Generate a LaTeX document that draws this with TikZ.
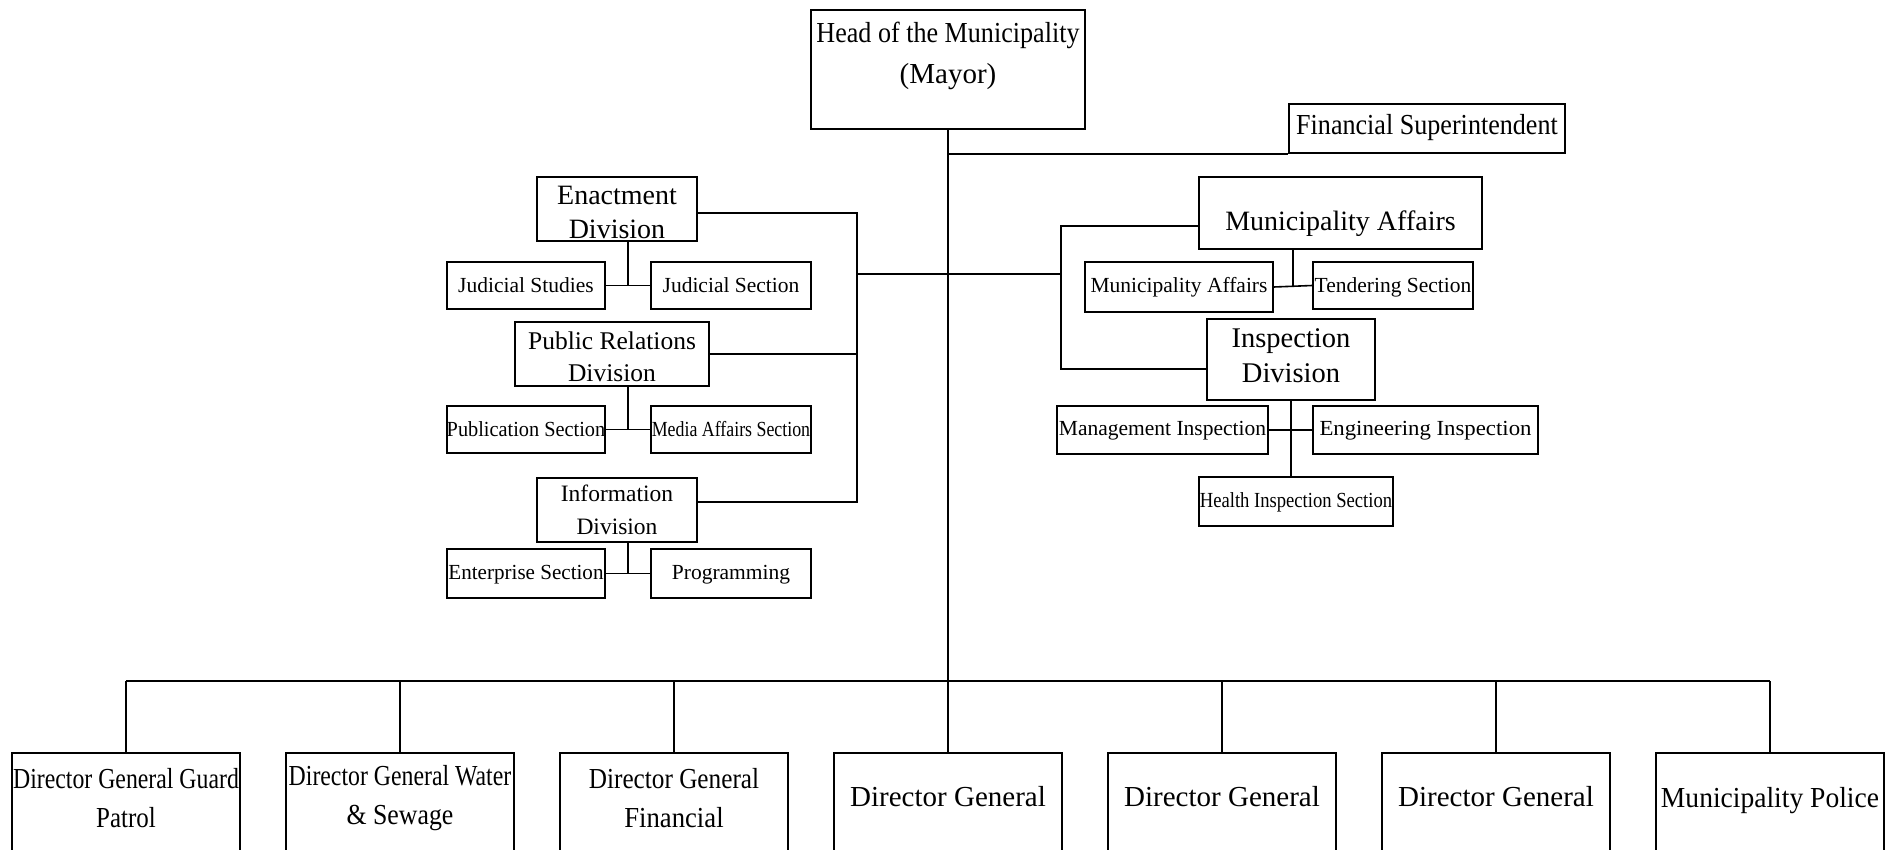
\documentclass[tikz,border=0pt]{standalone}
\usepackage{fontspec}
\usepackage{graphicx}
\setmainfont{Liberation Serif}
\usetikzlibrary{calc}
\tikzset{
  boxst/.style={draw, line width=1.6pt, inner sep=0pt},
  conn/.style={line width=1.6pt},
  txt/.style={inner sep=0pt, align=center},
  fbig/.style={font=\fontsize{28}{34}\selectfont},
  fsmall/.style={font=\fontsize{21.5}{26}\selectfont},
}
\newcommand{\hs}[2]{\scalebox{#1}[1]{#2}}
\begin{document}
\begin{tikzpicture}[x=1pt,y=-1pt]
\clip (0,0) rectangle (1901,849);
\fill[white] (0,0) rectangle (1901,849);

% top
\node[boxst, minimum width=274, minimum height=119] (head) at (948,69.5) {};
\node[txt, font=\fontsize{29}{41}\selectfont] (headt) at (948,56) {\hs{0.9}{Head of the Municipality}\\(Mayor)};
\node[boxst, minimum width=276, minimum height=49] (fin) at (1427,128.5) {};
\node[txt, font=\fontsize{29}{34}\selectfont] (fint) at (1427,128) {\hs{0.9}{Financial Superintendent}};

% left divisions
\node[boxst, minimum width=160, minimum height=64] (enact) at (617,209) {};
\node[txt, fbig] (enactt) at (617,212) {Enactment\\Division};
\node[boxst, minimum width=158, minimum height=47] (js) at (526,285.5) {};
\node[txt, fsmall] (jst) at (526,285.5) {Judicial Studies};
\node[boxst, minimum width=160, minimum height=47] (jsec) at (731,285.5) {};
\node[txt, fsmall] (jsect) at (731,285.5) {Judicial Section};

\node[boxst, minimum width=194, minimum height=64] (pr) at (612,354) {};
\node[txt, font=\fontsize{25.5}{32}\selectfont] (prt) at (612,357) {Public Relations\\Division};
\node[boxst, minimum width=158, minimum height=47] (pub) at (526,429.5) {};
\node[txt, fsmall] (pubt) at (526,429.5) {\hs{0.945}{Publication Section}};
\node[boxst, minimum width=160, minimum height=47] (media) at (731,429.5) {};
\node[txt, fsmall] (mediat) at (731,429.5) {\hs{0.83}{Media Affairs Section}};

\node[boxst, minimum width=160, minimum height=64] (info) at (617,510) {};
\node[txt, font=\fontsize{23.5}{33}\selectfont] (infot) at (617,510) {Information\\Division};
\node[boxst, minimum width=158, minimum height=49] (ent) at (526,573.5) {};
\node[txt, fsmall] (entt) at (526,574.5) {\hs{0.98}{Enterprise Section}};
\node[boxst, minimum width=160, minimum height=49] (prog) at (731,573.5) {};
\node[txt, fsmall] (progt) at (731,574.5) {Programming};

% right divisions
\node[boxst, minimum width=283, minimum height=72] (ma) at (1340.5,213) {};
\node[txt, fbig] (mat) at (1340.5,224) {Municipality Affairs};
\node[boxst, minimum width=188, minimum height=50] (mas) at (1179,287) {};
\node[txt, fsmall] (mast) at (1179,287) {Municipality Affairs};
\node[boxst, minimum width=160, minimum height=47] (tend) at (1393,285.5) {};
\node[txt, fsmall] (tendt) at (1393,287) {Tendering Section};

\node[boxst, minimum width=168, minimum height=81] (insp) at (1291,359.5) {};
\node[txt, font=\fontsize{28.5}{35}\selectfont] (inspt) at (1291,356) {Inspection\\Division};
\node[boxst, minimum width=211, minimum height=48] (mgmt) at (1162.5,430) {};
\node[txt, fsmall] (mgmtt) at (1162.5,431) {Management Inspection};
\node[boxst, minimum width=225, minimum height=48] (eng) at (1425.5,430) {};
\node[txt, fsmall] (engt) at (1425.5,431) {\hs{1.06}{Engineering Inspection}};
\node[boxst, minimum width=194, minimum height=49] (health) at (1296,501.5) {};
\node[txt, fsmall] (healtht) at (1296,502.5) {\hs{0.865}{Health Inspection Section}};

% bottom row
\foreach \i/\x in {1/126,2/400,3/674,4/948,5/1222,6/1496,7/1770}{
  \node[boxst, minimum width=228, minimum height=147] (dg\i) at (\x,826.5) {};
}
\tikzset{fbot/.style={font=\fontsize{29}{39}\selectfont}}
\node[txt, fbot] (dg1t) at (126,798) {\hs{0.82}{Director General Guard}\\\hs{0.86}{Patrol}};
\node[txt, fbot] (dg2t) at (400,798) {\hs{0.82}{Director General Water}\\\hs{0.89}{\& Sewage}};
\node[txt, fbot] (dg3t) at (674,798) {\hs{0.87}{Director General}\\\hs{0.92}{Financial}};
\node[txt, fbot] (dg4t) at (948,797) {Director General};
\node[txt, fbot] (dg5t) at (1222,797) {Director General};
\node[txt, fbot] (dg6t) at (1496,797) {Director General};
\node[txt, fbot] (dg7t) at (1770,801) {\hs{0.95}{Municipality Police}};

% connectors
\draw[conn] (head.south) -- (dg4.north);
\draw[conn] (head.south |- fin.south west) -- (fin.south west);

\coordinate (L) at (857,274);
\coordinate (R) at (1061,274);
\draw[conn] (L) -- (R);
\draw[conn] ([yshift=-4pt]enact.east) -| (L);
\draw[conn] ([yshift=8pt]info.east) -| (L);
\draw[conn] (pr.east) -- (pr.east -| L);
\draw[conn] ([yshift=-13pt]ma.west) -| (R);
\draw[conn] ([yshift=-9.5pt]insp.west) -| (R);

\coordinate (ej) at ($(js.east)!.5!(jsec.west)$);
\draw[conn] (js.east) -- (jsec.west);
\draw[conn] (enact.south -| ej) -- (ej);
\coordinate (pj) at ($(pub.east)!.5!(media.west)$);
\draw[conn] (pub.east) -- (media.west);
\draw[conn] (pr.south -| pj) -- (pj);
\coordinate (ij) at ($(ent.east)!.5!(prog.west)$);
\draw[conn] (ent.east) -- (prog.west);
\draw[conn] (info.south -| ij) -- (ij);

\coordinate (mj) at ($(mas.east)!.5!(tend.west)$);
\draw[conn] (mas.east) -- (tend.west);
\draw[conn] (ma.south -| mj) -- (mj);
\draw[conn] (mgmt.east) -- (eng.west);
\draw[conn] (insp.south) -- (insp.south |- health.north);

\coordinate (B) at (948,681);
\draw[conn] (dg1.north |- B) -- (dg7.north |- B);
\foreach \i in {1,2,3,5,6,7}{
  \draw[conn] (dg\i.north |- B) -- (dg\i.north);
}
\end{tikzpicture}
\end{document}
